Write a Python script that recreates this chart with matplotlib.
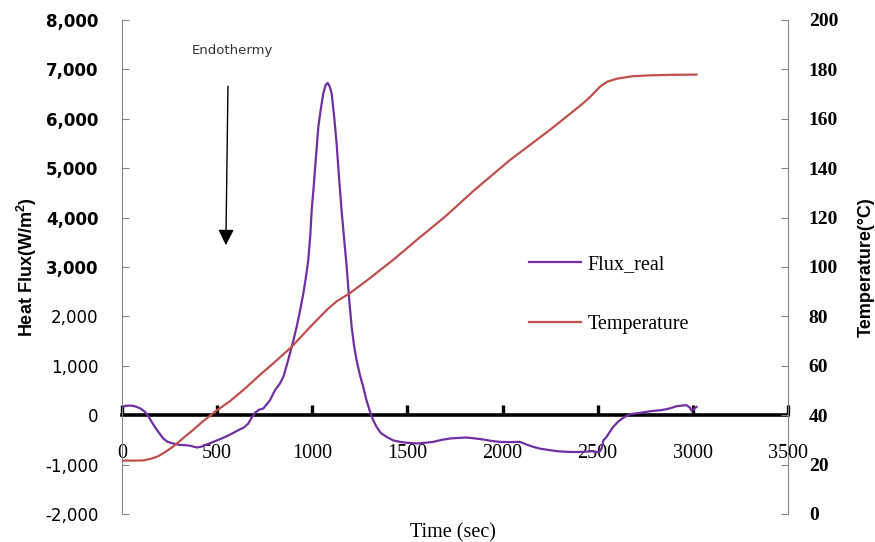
import matplotlib
matplotlib.use("Agg")
import matplotlib.pyplot as plt

matplotlib.rcParams['axes.unicode_minus'] = False

# Flux_real (heat flux, W/m^2)
flux_t = [0, 20, 45, 68, 95, 121, 140, 156, 175, 191, 217, 240, 269, 300, 331, 360,
          392, 415, 436, 480, 524, 570, 611, 640, 664, 680, 699, 720, 743, 778, 804,
          830, 848, 865, 883, 900, 918, 935, 953, 967, 979, 990, 997, 1006, 1014,
          1032, 1045, 1058, 1070, 1081, 1092, 1102, 1115, 1128, 1141, 1154, 1168,
          1181, 1194, 1207, 1220, 1233, 1250, 1268, 1285, 1303, 1320, 1338, 1360,
          1391, 1425, 1461, 1500, 1549, 1590, 1636, 1680, 1724, 1770, 1811, 1855,
          1899, 1940, 1986, 2040, 2091, 2130, 2161, 2200, 2249, 2290, 2337, 2380,
          2424, 2470, 2505, 2515, 2522, 2530, 2547, 2565, 2582, 2600, 2617, 2640,
          2670, 2700, 2722, 2760, 2792, 2830, 2862, 2890, 2915, 2945, 2968, 2985,
          2994, 3010, 3020]
flux_v = [160, 190, 195, 180, 140, 67, -30, -135, -250, -338, -472, -540, -573, -600,
          -607, -620, -654, -640, -607, -540, -472, -390, -304, -250, -169, -60, 50,
          110, 135, 304, 506, 640, 776, 1000, 1249, 1500, 1787, 2100, 2463, 2800,
          3138, 3650, 4150, 4550, 4960, 5836, 6200, 6512, 6680, 6727, 6650, 6512,
          6050, 5500, 4800, 4150, 3550, 3002, 2350, 1787, 1400, 1113, 820, 573, 300,
          80, -100, -236, -360, -439, -510, -540, -560, -573, -560, -540, -500, -472,
          -460, -452, -470, -492, -520, -540, -545, -540, -600, -641, -680, -708,
          -730, -742, -745, -742, -730, -750, -720, -650, -510, -439, -330, -236,
          -160, -101, -40, 20, 35, 47, 70, 87, 100, 121, 150, 182, 195, 202, 150, 87,
          140, 168]

# Temperature (°C)
temp_t = [0, 60, 112, 150, 191, 230, 269, 320, 384, 430, 489, 568, 638, 725, 800, 891,
          980, 1076, 1130, 1198, 1300, 1424, 1550, 1700, 1850, 2039, 2249, 2424, 2470,
          2512, 2550, 2599, 2680, 2775, 2900, 3020]
temp_v = [21.6, 21.6, 21.7, 22.3, 23.4, 25.2, 27.3, 30.6, 34.7, 37.8, 41.4, 45.7, 50.2,
          56.3, 61.3, 67.6, 75.0, 82.6, 86.2, 89.4, 95.3, 102.8, 111.0, 120.5, 131.0,
          143.3, 155.5, 166.3, 169.6, 173.0, 175.0, 176.2, 177.2, 177.6, 177.8, 177.9]

x_ticks = [0, 500, 1000, 1500, 2000, 2500, 3000, 3500]
flux_ticks = [-2000, -1000, 0, 1000, 2000, 3000, 4000, 5000, 6000, 7000, 8000]
temp_ticks = [0, 20, 40, 60, 80, 100, 120, 140, 160, 180, 200]

serif = 'Liberation Serif'
sans = 'Liberation Sans'

fig = plt.figure(figsize=(8.75, 5.42), dpi=100)
ax = fig.add_axes([0.1394, 0.0517, 0.7611, 0.9114])
ax2 = ax.twinx()

l1, = ax.plot(flux_t, flux_v, color='#7030A0', lw=1.6, label='Flux_real', zorder=3)
l2, = ax2.plot(temp_t, temp_v, color='#C0504D', lw=1.6, label='Temperature')

ax.set_xlim(0, 3500)
ax.set_ylim(-2000, 8000)
ax2.set_ylim(0, 200)

# Excel style: x axis sits at flux = 0
ax.spines['bottom'].set_position(('data', 0))
ax.spines['bottom'].set_color('black')
ax.spines['bottom'].set_linewidth(2.6)
ax.spines['bottom'].set_zorder(2)
ax.spines['top'].set_visible(False)
ax.spines['right'].set_visible(False)
ax.spines['left'].set_color('#868686')
for s in ['top', 'bottom', 'left']:
    ax2.spines[s].set_visible(False)
ax2.spines['right'].set_color('#868686')

ax.set_xticks(x_ticks, labels=[str(v) for v in x_ticks])
ax.tick_params(axis='x', direction='in', length=7, width=2.4, color='black', pad=21)
for lab in ax.get_xticklabels():
    lab.set_fontfamily(serif)
    lab.set_fontsize(14.5)

ax.set_yticks(flux_ticks, labels=[f"{v:,}" for v in flux_ticks])
ax.tick_params(axis='y', direction='in', length=5, color='#868686', pad=17)
for v, lab in zip(flux_ticks, ax.get_yticklabels()):
    lab.set_fontfamily('DejaVu Sans')
    lab.set_fontsize(12)
    if v >= 3000:
        lab.set_fontweight('bold')

ax2.set_yticks(temp_ticks, labels=[str(v) for v in temp_ticks])
ax2.tick_params(axis='y', direction='in', length=5, color='#868686', pad=15)
for lab in ax2.get_yticklabels():
    lab.set_fontfamily(serif)
    lab.set_fontweight('bold')
    lab.set_fontsize(14)

ax.set_xlabel('Time (sec)', fontfamily=serif, fontsize=14.5)
ax.xaxis.set_label_coords(0.497, -0.018)
ax.set_ylabel('Heat Flux(W/m$^\\mathregular{2}$)', fontfamily=sans, fontweight='bold', fontsize=13)
ax.yaxis.set_label_coords(-0.124, 0.5)
ax2.set_ylabel('Temperature(°C)', fontfamily=sans, fontweight='bold', fontsize=13)
ax2.yaxis.set_label_coords(1.105, 0.5)

ax.text(578, 7390, 'Endothermy', ha='center', va='center', fontsize=9.5,
        color='#333333', fontfamily='DejaVu Sans')
ax.annotate('', xy=(546, 3440), xytext=(557, 6660),
            arrowprops=dict(arrowstyle='-|>,head_length=0.95,head_width=0.47',
                            color='black', lw=1, shrinkA=0, shrinkB=0))

leg = ax2.legend(handles=[l1, l2], loc='center left', bbox_to_anchor=(0.6046, 0.4566),
                 bbox_transform=fig.transFigure, frameon=False, borderpad=0,
                 borderaxespad=0, handlelength=2.6, handletextpad=0.3,
                 labelspacing=2.0, prop={'family': serif, 'size': 14.5})

fig.savefig('out.png', dpi=100)
